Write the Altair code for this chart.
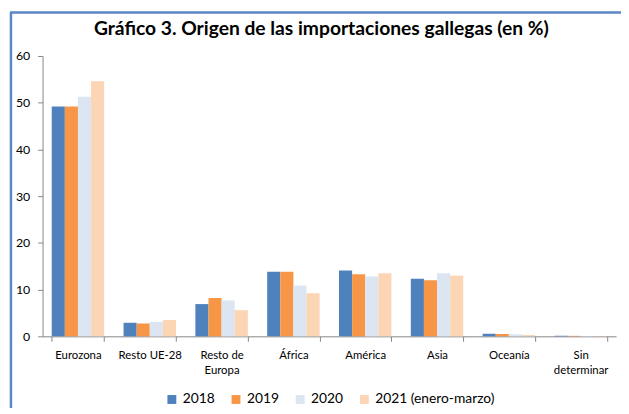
import altair as alt
import pandas as pd

categories = ["Eurozona", "Resto UE-28", "Resto de Europa", "África", "América",
              "Asia", "Oceanía", "Sin determinar"]
series = ["2018", "2019", "2020", "2021 (enero-marzo)"]
v2018 = [49.2, 2.9, 6.9, 13.8, 14.1, 12.3, 0.55, 0.12]
v2019 = [49.2, 2.75, 8.2, 13.8, 13.3, 12.0, 0.5, 0.1]
v2020 = [51.3, 3.1, 7.7, 10.9, 12.8, 13.5, 0.45, 0.08]
v2021 = [54.6, 3.5, 5.6, 9.2, 13.5, 13.0, 0.3, 0.05]
colors = ["#4F81BD", "#F79646", "#DCE6F2", "#FCD5B5"]
y_ticks = [0, 10, 20, 30, 40, 50, 60]

rows = []
for s, vals in zip(series, [v2018, v2019, v2020, v2021]):
    for c, v in zip(categories, vals):
        rows.append({"cat": c, "serie": s, "v": v})
df = pd.DataFrame(rows)

FONT = "Lato"

label_expr = ("datum.label == 'Resto de Europa' ? ['Resto de', 'Europa'] : "
              "datum.label == 'Sin determinar' ? ['Sin', 'determinar'] : datum.label")

bars = alt.Chart(df).mark_bar().encode(
    x=alt.X("cat:N", sort=categories,
            scale=alt.Scale(paddingInner=0.27, paddingOuter=0.128),
            axis=alt.Axis(title=None, labelAngle=0, tickBand="extent",
                          labelExpr=label_expr, labelFontSize=11.5,
                          labelPadding=8, labelLineHeight=16, tickSize=5)),
    xOffset=alt.XOffset("serie:N", sort=series,
                        scale=alt.Scale(paddingInner=0, paddingOuter=0)),
    y=alt.Y("v:Q", scale=alt.Scale(domain=[0, 60], nice=False),
            axis=alt.Axis(title=None, values=y_ticks, grid=False,
                          labelFontSize=12.5, labelPadding=8, tickSize=5)),
    color=alt.Color("serie:N", sort=series,
                    scale=alt.Scale(domain=series, range=colors),
                    legend=alt.Legend(title=None, orient="none", direction="horizontal",
                                      legendX=124, legendY=341,
                                      symbolType="square", symbolSize=81,
                                      symbolStrokeWidth=0, labelFontSize=14,
                                      labelOffset=4, columnPadding=14,
                                      labelFont=FONT, labelColor="#000000")),
)

frame_df = pd.DataFrame({"a": [0]})
left_border = alt.Chart(frame_df).mark_rule(color="#5B87C5", strokeWidth=2.5).encode(
    x=alt.value(-32), y=alt.value(-44), y2=alt.value(420))
top_border = alt.Chart(frame_df).mark_rule(color="#5B87C5", strokeWidth=2.5).encode(
    x=alt.value(-33), x2=alt.value(620), y=alt.value(-44))

chart = alt.layer(bars, left_border, top_border).properties(
    width=581, height=284,
    autosize=alt.AutoSizeParams(type="none"),
    padding={"left": 35, "top": 46, "right": 5, "bottom": 70},
    title=alt.TitleParams(
        "Gráfico 3. Origen de las importaciones gallegas (en %)",
        font=FONT, fontSize=19.5, fontWeight="bold", color="#000000",
        anchor="middle", dx=-8, offset=-43, baseline="alphabetic", frame="group"),
).configure_view(stroke=None).configure_axis(
    domainColor="#868686", tickColor="#868686", labelColor="#000000",
    labelFont=FONT, domainWidth=1,
)

chart.save("out.html", embed_options={"renderer": "svg", "actions": False})
